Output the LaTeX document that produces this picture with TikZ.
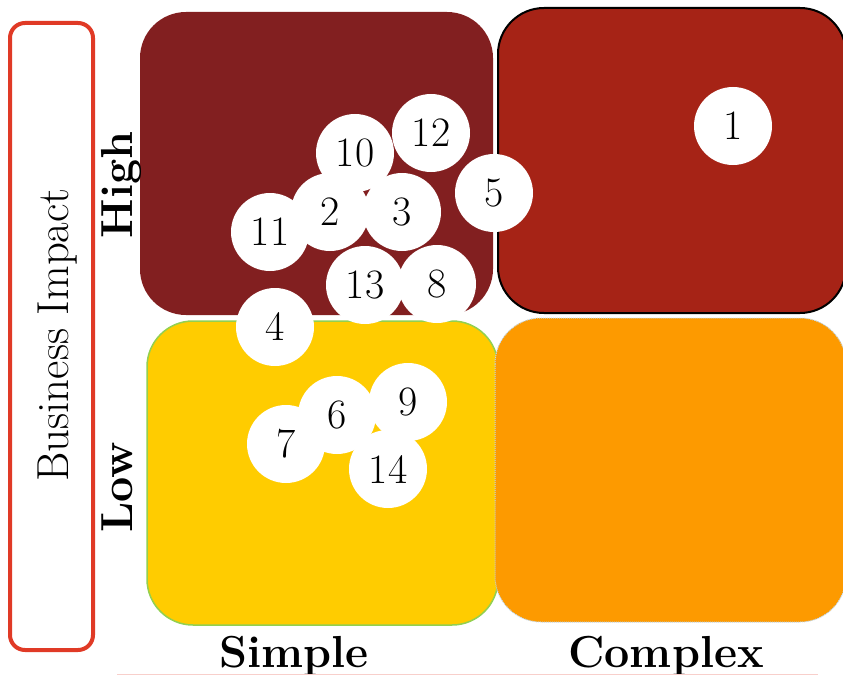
\documentclass[tikz,border=0pt]{standalone}
\usepackage{fontspec}
\definecolor{maroon}{HTML}{821F20}
\definecolor{brick}{HTML}{A62316}
\definecolor{sun}{HTML}{FFCC00}
\definecolor{amber}{HTML}{FD9A00}
\definecolor{leaf}{HTML}{92D050}
\definecolor{frame}{HTML}{E03A26}
\definecolor{sky}{HTML}{BDD7EE}
\definecolor{blush}{HTML}{F8CFCB}
\begin{document}
\begin{tikzpicture}[x=1bp,y=-1bp,
  quad/.style={rounded corners=46bp},
  dot/.style={circle, fill=white, minimum size=78bp, inner sep=0pt,
    font=\fontsize{42}{42}\selectfont},
  axis/.style={font=\fontsize{45}{52}\selectfont\bfseries, inner sep=0pt},
  title/.style={font=\fontsize{45}{52}\selectfont, inner sep=0pt}]
\useasboundingbox (0,0) rectangle (843,675);
\clip (0,0) rectangle (843,675);

% quadrants
\fill[maroon, quad] (140,12) rectangle (493,315);
\draw[brick, quad, fill=brick] (498,8) rectangle (846,313);
\draw[black, line width=2bp, quad] (498,8) rectangle (846,313);
\draw[leaf, line width=1.5bp, fill=sun, quad] (147,321) rectangle (498,625);
\draw[sky, line width=1bp, densely dotted, fill=amber, quad] (495,318) rectangle (846,622);

% vertical axis frame and title
\draw[frame, line width=4bp, rounded corners=15bp] (10,23) rectangle (93,650);
\node[title, rotate=90, anchor=base] (impact) at (68,335) {Business Impact};

% axis labels
\node[axis, rotate=90, anchor=base] (high) at (132,185) {High};
\node[axis, rotate=90, anchor=base] (low) at (132,487) {Low};
\node[axis, anchor=base] (simple) at (294,667) {Simple};
\node[axis, anchor=base] (complex) at (666,667) {Complex};

% baseline rule
\coordinate (ruleL) at (117,674);
\coordinate (ruleR) at (818,674);
\draw[blush, line width=1bp] (ruleL) -- (ruleR);

% items
\node[dot] (n1) at (733,126) {1};
\node[dot] (n10) at (355,153) {10};
\node[dot] (n12) at (431,133) {12};
\node[dot] (n5) at (494,193) {5};
\node[dot] (n11) at (270,232) {11};
\node[dot] (n2) at (330,212) {2};
\node[dot] (n3) at (402,212) {3};
\node[dot] (n13) at (365,285) {13};
\node[dot] (n8) at (437,284) {8};
\node[dot] (n4) at (275,327) {4};
\node[dot] (n6) at (337,415) {6};
\node[dot] (n9) at (408,402) {9};
\node[dot] (n7) at (286,444) {7};
\node[dot] (n14) at (388,469) {14};
\end{tikzpicture}
\end{document}
